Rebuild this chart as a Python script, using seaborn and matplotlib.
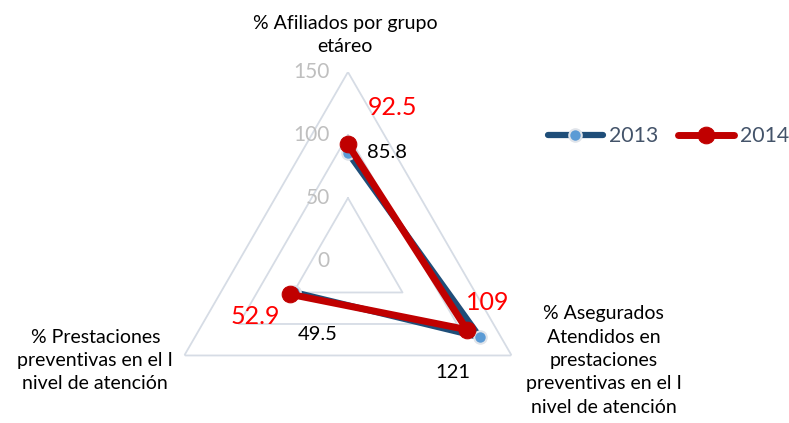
import numpy as np
import pandas as pd
import matplotlib.pyplot as plt
import seaborn as sns

# chart data
categories = ['% Afiliados por grupo\netáreo',
              '% Asegurados\nAtendidos en\nprestaciones\npreventivas en el I\nnivel de atención',
              '% Prestaciones\npreventivas en el I\nnivel de atención']
values_2013 = [85.8, 121, 49.5]
values_2014 = [92.5, 109, 52.9]
radial_ticks = [0, 50, 100, 150]

sns.set_style('white')
plt.rcParams['font.family'] = ['Lato', 'DejaVu Sans']

fig = plt.figure(figsize=(7.89, 4.23), dpi=100)
ax = fig.add_axes([0.2015, -0.0638, 0.479, 0.8936], projection='polar')
ax.set_theta_zero_location('N')
ax.set_theta_direction(-1)
ax.set_ylim(0, 150)
ax.grid(False)
ax.spines['polar'].set_visible(False)
ax.set_xticks([])
ax.set_yticks([])
ax.patch.set_alpha(0)

angles = np.linspace(0, 2 * np.pi, len(categories), endpoint=False)
closed = np.append(angles, angles[0])

# triangular grid
for r in radial_ticks[1:]:
    ax.plot(closed, [r] * len(closed), color='#d6dce5', lw=1.3, zorder=1)
for r in radial_ticks:
    ax.annotate(str(r), xy=(0, r), xytext=(-18, 0), textcoords='offset pixels',
                ha='right', va='center', color='#bfbfbf', fontsize=15)

df = pd.DataFrame({'theta': closed,
                   '2013': values_2013 + values_2013[:1],
                   '2014': values_2014 + values_2014[:1]})

sns.lineplot(x=df['theta'], y=df['2013'], sort=False, ax=ax, color='#1f4e79', lw=4.5,
             marker='o', markersize=9, markerfacecolor='#5b9bd5', markeredgecolor='#e0e4ea',
             markeredgewidth=1.5, label='2013', zorder=3)
sns.lineplot(x=df['theta'], y=df['2014'], sort=False, ax=ax, color='#c00000', lw=5,
             marker='o', markersize=12, markerfacecolor='#c00000', markeredgecolor='#c00000',
             label='2014', zorder=4)
ax.set_xlabel('')
ax.set_ylabel('')

# data labels
off_2013 = [(39, 0), (-27, -35), (24, -42)]
off_2014 = [(45, 37), (21, 27), (-35, -22)]
for a, v, o in zip(angles, values_2013, off_2013):
    ax.annotate(f'{v:g}', xy=(a, v), xytext=o, textcoords='offset pixels',
                ha='center', va='center', color='black', fontsize=14.5)
for a, v, o in zip(angles, values_2014, off_2014):
    ax.annotate(f'{v:g}', xy=(a, v), xytext=o, textcoords='offset pixels',
                ha='center', va='center', color='#ff0000', fontsize=18)

# category labels
cat_off = [(-3, 37), (92, -5), (-89, -5)]
for a, c, o in zip(angles, categories, cat_off):
    ax.annotate(c, xy=(a, 150), xytext=o, textcoords='offset pixels',
                ha='center', va='center', color='#000000', fontsize=14, linespacing=1.45)

leg = ax.legend(loc='center', bbox_to_anchor=(0.847, 0.678), bbox_transform=fig.transFigure,
                ncol=2, frameon=False, handlelength=2.6, fontsize=15.3, columnspacing=0.95,
                handletextpad=0.28)
for t in leg.get_texts():
    t.set_color('#44546a')

fig.savefig('out.png', dpi=100)
